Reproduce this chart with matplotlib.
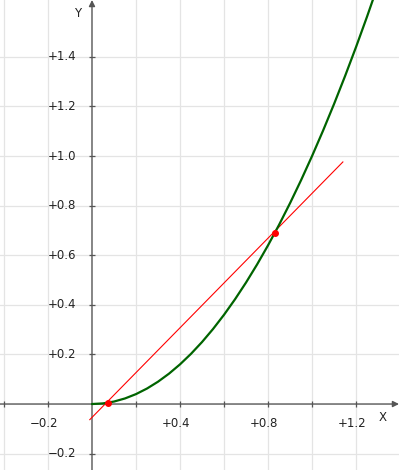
import matplotlib
matplotlib.use("Agg")
import matplotlib.pyplot as plt
import matplotlib.transforms as mtransforms

# Curve points
curve_x = [0.0, 0.05, 0.1, 0.15, 0.2, 0.25, 0.3, 0.35, 0.4, 0.45, 0.5, 0.55, 0.6, 0.65,
           0.7, 0.75, 0.8, 0.85, 0.9, 0.95, 1.0, 1.05, 1.1, 1.15, 1.2, 1.25, 1.3]
curve_y = [0.0, 0.0025, 0.01, 0.0225, 0.04, 0.0625, 0.09, 0.1225, 0.16, 0.2025, 0.25, 0.3025,
           0.36, 0.4225, 0.49, 0.5625, 0.64, 0.7225, 0.81, 0.9025, 1.0, 1.1025, 1.21, 1.3225,
           1.44, 1.5625, 1.69]

# Secant line (extended) and the two marked points
line_x = [-0.01, 1.14]
line_y = [-0.063, 0.976]
pts_x = [0.075, 0.83]
pts_y = [0.006, 0.69]

xticks = [-0.4, -0.2, 0.2, 0.4, 0.6, 0.8, 1.0, 1.2]
xlabels = {-0.2: "\u22120.2", 0.4: "+0.4", 0.8: "+0.8", 1.2: "+1.2"}
yticks = [-0.2, 0.2, 0.4, 0.6, 0.8, 1.0, 1.2, 1.4]
ylabels = ["\u22120.2", "+0.2", "+0.4", "+0.6", "+0.8", "+1.0", "+1.2", "+1.4"]
grid_x = [-0.4, -0.2, 0.2, 0.4, 0.6, 0.8, 1.0, 1.2]
grid_y = [-0.2, 0.2, 0.4, 0.6, 0.8, 1.0, 1.2, 1.4]

fig = plt.figure(figsize=(3.99, 4.70), dpi=100)
ax = fig.add_axes([0, 0, 1, 1])
ax.set_xlim(-0.418, 1.395)
ax.set_ylim(-0.266, 1.629)
for s in ax.spines.values():
    s.set_visible(False)
ax.set_xticks([])
ax.set_yticks([])

gc = "#e4e4e4"
for gx in grid_x:
    ax.axvline(gx, color=gc, lw=0.9, zorder=0)
for gy in grid_y:
    ax.axhline(gy, color=gc, lw=0.9, zorder=0)

axc = "#555555"
# axes with arrows
ax.annotate("", xy=(1.395, 0), xytext=(-0.418, 0),
            arrowprops=dict(arrowstyle="-|>", color=axc, lw=1.0, mutation_scale=9,
                            shrinkA=0, shrinkB=0), zorder=2)
ax.annotate("", xy=(0, 1.629), xytext=(0, -0.266),
            arrowprops=dict(arrowstyle="-|>", color=axc, lw=1.0, mutation_scale=9,
                            shrinkA=0, shrinkB=0), zorder=2)

# tick marks
ax.plot(xticks, [0] * len(xticks), ls="none", marker="|", color=axc, ms=4.5, mew=0.9, zorder=2)
ax.plot([0] * len(yticks), yticks, ls="none", marker="_", color=axc, ms=4.5, mew=0.9, zorder=2)

fs = 8.5
tc = "#222222"
off = mtransforms.offset_copy(ax.transData, fig=fig, x=-4, y=0, units="dots")
for v, lab in xlabels.items():
    ax.text(v, -0.079, lab, transform=off, ha="center", va="center", fontsize=fs, color=tc)
for v, lab in zip(yticks, ylabels):
    ax.text(-0.073, v, lab, ha="right", va="center", fontsize=fs, color=tc)

ax.text(-0.064, 1.574, "Y", ha="center", va="center", fontsize=fs, color=tc)
ax.text(1.323, -0.055, "X", ha="center", va="center", fontsize=fs, color=tc)

ax.plot(line_x, line_y, color="#ff0000", lw=0.8, zorder=3)
ax.plot(curve_x, curve_y, color="#006400", lw=1.6, zorder=4, solid_capstyle="round")
ax.plot(pts_x, pts_y, ls="none", marker="o", color="#ff0000", ms=4, zorder=5)

fig.savefig("out.png", dpi=100)
